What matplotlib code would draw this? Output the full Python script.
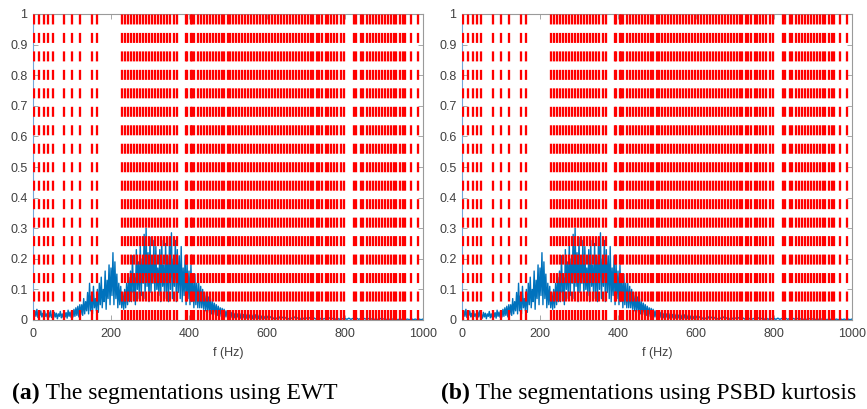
import numpy as np
import matplotlib
matplotlib.use("Agg")
import matplotlib.pyplot as plt

plt.rcParams['lines.scale_dashes'] = False

# Segment boundaries (Hz) - same in both panels
boundaries_ewt = [3, 15, 27, 38, 50,
                  79, 99, 120,
                  150, 163,
                  228, 236, 244, 251, 259, 266, 274, 282, 289, 297, 305, 312, 320, 328, 335, 343, 350,
                  362, 370,
                  392, 396, 404, 408, 414,
                  424, 431, 438, 446, 453, 461, 468, 476, 484, 491, 499, 506, 514, 521, 529, 537, 544,
                  552, 559, 567, 575, 582, 590, 597,
                  606, 614, 621, 629, 637, 644, 651, 659, 666, 674, 681, 689, 697, 704, 712, 719, 727,
                  734, 742, 750, 757, 765, 772, 780, 790, 798,
                  824, 829, 840, 845,
                  856, 864, 871, 879, 887, 894, 902, 910, 917, 925, 932, 940, 948, 955,
                  968, 986]
boundaries_psbd = list(boundaries_ewt)

# Spectrum magnitude, 0-600 Hz sampled every 2.5 Hz
spec_low = [0.04, 0.01, 0.03, 0.012, 0.035, 0.008, 0.025, 0.015, 0.03, 0.01,
            0.022, 0.006, 0.028, 0.012, 0.02, 0.005, 0.026, 0.01, 0.03, 0.008,
            0.018, 0.006, 0.025, 0.01, 0.022, 0.004, 0.02, 0.012, 0.028, 0.007,
            0.02, 0.008, 0.03, 0.01, 0.024, 0.006, 0.032, 0.012, 0.026, 0.009,
            0.03, 0.01, 0.035, 0.012, 0.04, 0.015, 0.045, 0.01, 0.05, 0.018,
            0.05, 0.015, 0.07, 0.02, 0.06, 0.03, 0.09, 0.02, 0.12, 0.03,
            0.08, 0.02, 0.11, 0.04, 0.07, 0.03, 0.1, 0.025, 0.12, 0.05,
            0.14, 0.04, 0.1, 0.06, 0.16, 0.035, 0.13, 0.07, 0.18, 0.05,
            0.17, 0.08, 0.22, 0.05, 0.19, 0.07, 0.15, 0.04, 0.12, 0.05,
            0.11, 0.04, 0.09, 0.035, 0.1, 0.04, 0.12, 0.05, 0.14, 0.06,
            0.16, 0.06, 0.21, 0.09, 0.14, 0.05, 0.23, 0.1, 0.19, 0.07,
            0.25, 0.08, 0.2, 0.12, 0.28, 0.07, 0.3, 0.11, 0.22, 0.06,
            0.27, 0.09, 0.19, 0.12, 0.26, 0.07, 0.24, 0.1, 0.17, 0.08,
            0.23, 0.06, 0.26, 0.11, 0.18, 0.07, 0.25, 0.09, 0.21, 0.06,
            0.27, 0.1, 0.285, 0.07, 0.2, 0.11, 0.26, 0.06, 0.23, 0.09,
            0.21, 0.07, 0.24, 0.06, 0.17, 0.08, 0.21, 0.05, 0.19, 0.07,
            0.16, 0.05, 0.18, 0.06, 0.13, 0.04, 0.15, 0.05, 0.12, 0.04,
            0.12, 0.04, 0.11, 0.04, 0.1, 0.035, 0.09, 0.03, 0.08, 0.03,
            0.075, 0.025, 0.07, 0.02, 0.06, 0.022, 0.055, 0.018, 0.05, 0.015,
            0.045, 0.015, 0.04, 0.012, 0.038, 0.012, 0.035, 0.01, 0.03, 0.01,
            0.028, 0.01, 0.03, 0.008, 0.025, 0.008, 0.022, 0.007, 0.025, 0.008,
            0.02, 0.007, 0.022, 0.006, 0.02, 0.006, 0.018, 0.005, 0.02, 0.006,
            0.018, 0.005, 0.016, 0.005, 0.02, 0.004, 0.015, 0.005, 0.017, 0.004,
            0.014, 0.004, 0.016, 0.004, 0.013, 0.003, 0.015, 0.004, 0.012, 0.003,
            0.012]
# 605-1000 Hz sampled every 5 Hz
spec_high = [0.004, 0.011, 0.003, 0.01, 0.004, 0.012, 0.003, 0.009, 0.004, 0.01,
             0.003, 0.008, 0.004, 0.01, 0.003, 0.008, 0.002, 0.009, 0.003, 0.007,
             0.003, 0.008, 0.002, 0.007, 0.003, 0.009, 0.002, 0.007, 0.003, 0.006,
             0.002, 0.007, 0.003, 0.006, 0.002, 0.007, 0.002, 0.006, 0.003, 0.005,
             0.002, 0.006, 0.002, 0.005, 0.002, 0.006, 0.002, 0.005, 0.002, 0.005,
             0.002, 0.005, 0.001, 0.005, 0.002, 0.004, 0.001, 0.005, 0.002, 0.004,
             0.001, 0.004, 0.002, 0.004, 0.001, 0.004, 0.001, 0.003, 0.002, 0.004,
             0.001, 0.003, 0.001, 0.004, 0.001, 0.003, 0.001, 0.003, 0.001, 0.003]

f_low = np.linspace(0, 600, len(spec_low))
f_high = np.linspace(605, 1000, len(spec_high))
freq = np.concatenate([f_low, f_high])
spec = np.concatenate([spec_low, spec_high])

xticks = [0, 200, 400, 600, 800, 1000]
yticks = [0, 0.1, 0.2, 0.3, 0.4, 0.5, 0.6, 0.7, 0.8, 0.9, 1]
ytick_labels = ['0', '0.1', '0.2', '0.3', '0.4', '0.5', '0.6', '0.7', '0.8', '0.9', '1']
captions = [("(a)", " The segmentations using EWT"),
            ("(b)", " The segmentations using PSBD kurtosis")]

fig = plt.figure(figsize=(8.67, 4.09), dpi=100)
W, H = 867, 409
axes_px = [(33, 423), (462, 852)]
ytop, ybot = 14, 320

blue = (0.0, 0.447, 0.741)
tick_col = '#404040'
spine_col = '#9a9a9a'

for i, (x0, x1) in enumerate(axes_px):
    ax = fig.add_axes([x0 / W, (H - ybot) / H, (x1 - x0) / W, (ybot - ytop) / H])
    ax.plot(freq, spec, color=blue, lw=1.0, zorder=2)
    bnds = boundaries_ewt if i == 0 else boundaries_psbd
    for b in bnds:
        ax.plot([b, b], [0, 1], color=(1, 0, 0), lw=1.65, dashes=(7.2, 6.1), zorder=3)
    ax.set_xlim(0, 1000)
    ax.set_ylim(0, 1)
    ax.set_xticks(xticks)
    ax.set_yticks(yticks)
    ax.set_yticklabels(ytick_labels)
    ax.tick_params(direction='in', length=3.5, width=0.6, top=True, right=True,
                   labelsize=9, colors=spine_col, labelcolor=tick_col, pad=4)
    ax.tick_params(axis='x', pad=6)
    for s in ax.spines.values():
        s.set_color(spine_col)
        s.set_linewidth(0.8)
    ax.spines['left'].set_color((0.45, 0.65, 0.85))
    for lab in ax.get_xticklabels() + ax.get_yticklabels():
        lab.set_fontfamily('Liberation Sans')
    ax.set_xlabel('f (Hz)', fontsize=9, color=tick_col, family='Liberation Sans', labelpad=5)

    cx = 12 if i == 0 else 441
    t1 = fig.text(cx / W, (H - 393) / H, captions[i][0], fontsize=17, fontweight='bold',
                  family='Liberation Serif', va='center', ha='left')
    fig.canvas.draw()
    bb = t1.get_window_extent()
    fig.text(bb.x1 / W, (H - 393) / H, captions[i][1], fontsize=17,
             family='Liberation Serif', va='center', ha='left')

fig.savefig('out.png', dpi=100)
